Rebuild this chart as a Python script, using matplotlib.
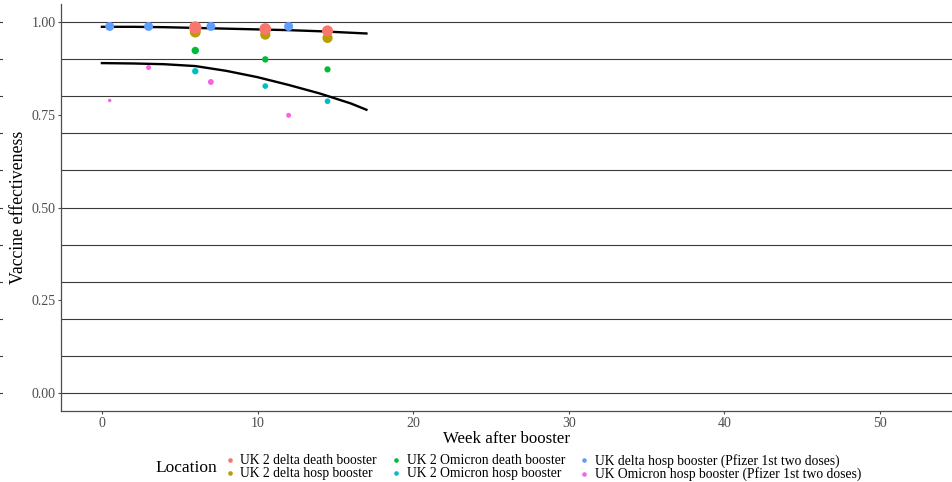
import matplotlib
matplotlib.use("Agg")
from matplotlib import pyplot as plt
from matplotlib.lines import Line2D

plt.rcParams['font.family'] = ['Liberation Serif', 'DejaVu Serif']

# series: week after booster, effectiveness, point size (px diameter)
labels = ['UK 2 delta death booster', 'UK 2 delta hosp booster',
          'UK 2 Omicron death booster', 'UK 2 Omicron hosp booster',
          'UK delta hosp booster (Pfizer 1st two doses)',
          'UK Omicron hosp booster (Pfizer 1st two doses)']
colors = ['#F8766D', '#B79F00', '#00BA38', '#00BFC4', '#619CFF', '#F564E3']

weeks_uk2 = [6, 10.5, 14.5]
weeks_pfizer = [0.5, 3, 7, 12]

delta_death = [0.986, 0.982, 0.977]
delta_hosp = [0.974, 0.967, 0.958]
omicron_death = [0.924, 0.900, 0.873]
omicron_hosp = [0.868, 0.828, 0.787]
pfizer_delta_hosp = [0.989, 0.989, 0.989, 0.989]
pfizer_omicron_hosp = [0.789, 0.878, 0.839, 0.749]

size_delta_death = [12.5, 11.8, 11.0]
size_delta_hosp = [11.0, 10.2, 10.2]
size_omicron_death = [7.4, 6.4, 6.2]
size_omicron_hosp = [6.4, 5.7, 5.7]
size_pfizer_delta = [9.0, 9.0, 9.0, 9.0]
size_pfizer_omicron = [3.5, 5.0, 5.9, 5.0]

# fitted curves
curve_weeks = [0, 2, 4, 6, 8, 10, 12, 14, 16, 17]
curve_delta = [0.988, 0.988, 0.987, 0.985, 0.983, 0.981, 0.979, 0.976, 0.972, 0.970]
curve_omicron = [0.890, 0.889, 0.887, 0.882, 0.869, 0.852, 0.831, 0.808, 0.781, 0.764]

grid_levels = [i / 10 for i in range(11)]
y_ticks = [0, 0.25, 0.5, 0.75, 1.0]
x_ticks = [0, 10, 20, 30, 40, 50]

series = [
    (weeks_uk2, delta_death, size_delta_death),
    (weeks_uk2, delta_hosp, size_delta_hosp),
    (weeks_uk2, omicron_death, size_omicron_death),
    (weeks_uk2, omicron_hosp, size_omicron_hosp),
    (weeks_pfizer, pfizer_delta_hosp, size_pfizer_delta),
    (weeks_pfizer, pfizer_omicron_hosp, size_pfizer_omicron),
]
# draw order so that red sits on top of blue/olive like the original
draw_order = [4, 5, 3, 2, 1, 0]

fig = plt.figure(figsize=(9.53, 4.82), dpi=100)
ax = fig.add_axes([0.064, 0.147, 0.936, 0.845])

for lev in grid_levels:
    ax.axhline(lev, color='#3a3a3a', lw=0.8, zorder=1)

ax.plot(curve_weeks, curve_delta, color='black', lw=1.7, zorder=2)
ax.plot(curve_weeks, curve_omicron, color='black', lw=1.7, zorder=2)

for i in draw_order:
    xs, ys, sz = series[i]
    ax.scatter(xs, ys, s=[(d * 0.72) ** 2 for d in sz], color=colors[i],
               linewidths=0, zorder=3)

ax.set_xlim(-2.63, 54.7)
ax.set_ylim(-0.05, 1.05)
ax.set_xticks(x_ticks)
ax.set_yticks(y_ticks)
ax.set_yticklabels(['%.2f' % v for v in y_ticks])
ax.tick_params(colors='#4d4d4d', labelsize=10, length=2.5, width=0.8, pad=1.5)
for side in ['top', 'right']:
    ax.spines[side].set_visible(False)
for side in ['left', 'bottom']:
    ax.spines[side].set_color('#4d4d4d')
    ax.spines[side].set_linewidth(0.9)

ax.set_xlabel('Week after booster', fontsize=12.2, labelpad=1)
ax.set_ylabel('Vaccine effectiveness', fontsize=12.8, labelpad=3)

# remnants of gridlines at the far left edge
edge = fig.add_axes([0.0, 0.147, 0.003, 0.845])
edge.set_ylim(-0.05, 1.05)
for lev in grid_levels:
    edge.axhline(lev, color='#3a3a3a', lw=0.8)
edge.axis('off')

handles = [Line2D([], [], marker='o', ls='', color=c, markersize=2.3) for c in colors]
fig.legend(handles, labels, loc='center', bbox_to_anchor=(0.569, 0.030), ncol=3,
           frameon=False, fontsize=9.8, handletextpad=0.3, columnspacing=0.9,
           labelspacing=0.0, handlelength=1.0, borderpad=0)
fig.text(0.163, 0.029, 'Location', fontsize=12.5, va='center')

fig.savefig('out.png', dpi=100)
